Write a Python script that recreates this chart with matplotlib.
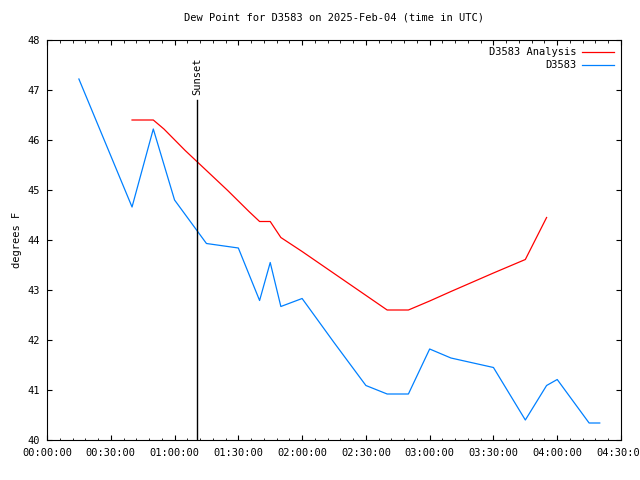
import pandas as pd
import matplotlib
matplotlib.use("Agg")
import matplotlib.pyplot as plt
import matplotlib.dates as mdates

day = "2025-02-04 "

obs_times = ["00:15", "00:40", "00:50", "01:00", "01:15", "01:30", "01:40", "01:45",
             "01:50", "02:00", "02:15", "02:30", "02:40", "02:50", "03:00", "03:10",
             "03:30", "03:45", "03:55", "04:00", "04:15", "04:20"]
obs_dew = [47.22, 44.66, 46.22, 44.80, 43.93, 43.84, 42.79, 43.55,
           42.67, 42.83, 41.95, 41.09, 40.92, 40.92, 41.82, 41.64,
           41.45, 40.40, 41.09, 41.21, 40.34, 40.34]

ana_times = ["00:40", "00:50", "00:55", "01:05", "01:15", "01:25", "01:35", "01:40",
             "01:45", "01:50", "02:00", "02:40", "02:50", "03:00", "03:10", "03:30",
             "03:45", "03:55"]
ana_dew = [46.40, 46.40, 46.22, 45.79, 45.39, 44.99, 44.57, 44.37,
           44.37, 44.05, 43.77, 42.60, 42.60, 42.78, 42.97, 43.34,
           43.61, 44.45]

sunset = "01:10:30"


def to_dt(ts):
    return pd.to_datetime([day + t for t in ts])


def main():
    plt.rcParams["font.family"] = "DejaVu Sans Mono"
    plt.rcParams["font.size"] = 7.5

    fig = plt.figure(figsize=(6.4, 4.8), dpi=100)
    ax = fig.add_axes([47 / 640, 40 / 480, 574 / 640, 400 / 480])

    ax.plot(to_dt(ana_times), ana_dew, color="#ff0000", lw=0.9, label="D3583 Analysis")
    ax.plot(to_dt(obs_times), obs_dew, color="#0080ff", lw=0.9, label="D3583")

    ss = pd.to_datetime(day + sunset)
    ax.plot([ss, ss], [40, 46.8], color="black", lw=1)
    ax.text(ss, 46.9, "Sunset", rotation=90, ha="center", va="bottom")

    ax.set_xlim(pd.to_datetime(day + "00:00"), pd.to_datetime(day + "04:30"))
    ax.set_ylim(40, 48)
    ax.xaxis.set_major_locator(mdates.MinuteLocator(byminute=[0, 30]))
    ax.xaxis.set_minor_locator(mdates.MinuteLocator(byminute=range(0, 60, 6)))
    ax.xaxis.set_major_formatter(mdates.DateFormatter("%H:%M:%S"))
    ax.yaxis.set_major_locator(plt.MultipleLocator(1))
    ax.tick_params(which="both", direction="in", top=True, right=True)
    ax.tick_params(which="major", length=3.6)
    ax.tick_params(which="minor", length=1.8)
    ax.tick_params(axis="x", which="major", pad=6)
    ax.tick_params(axis="y", which="major", pad=5)

    ax.set_title("Dew Point for D3583 on 2025-Feb-04 (time in UTC)", fontsize=7.5, pad=14)
    ax.set_ylabel("degrees F")

    leg = ax.legend(loc="upper right", frameon=False, markerfirst=False,
                    handlelength=3.0, handletextpad=0.6, borderaxespad=0.3,
                    labelspacing=0.3)
    for t in leg.get_texts():
        t.set_ha("right")

    fig.savefig("out.png", dpi=100)


if __name__ == "__main__":
    main()
